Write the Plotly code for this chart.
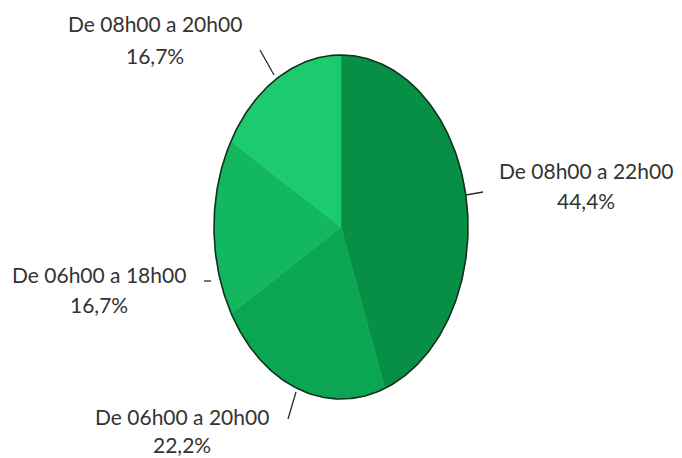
import numpy as np
import plotly.graph_objects as go

categories = ["De 08h00 a 22h00", "De 06h00 a 20h00", "De 06h00 a 18h00", "De 08h00 a 20h00"]
values = [44.4, 22.2, 16.7, 16.7]
colors = ["#078f45", "#0aa653", "#12b75f", "#1ccb6e"]

# ellipse geometry (pixel-like data units)
cx, cy, ra, rb = 341, 227, 127, 172

fig = go.Figure()
total = sum(values)
start = 0.0
for cat, v, col in zip(categories, values, colors):
    end = start + v / total * 2 * np.pi
    t = np.linspace(start, end, 120)
    xs = np.concatenate([[cx], cx + ra * np.sin(t), [cx]])
    ys = np.concatenate([[cy], cy - rb * np.cos(t), [cy]])
    fig.add_trace(go.Scatter(x=xs, y=ys, fill="toself", fillcolor=col, mode="lines",
                             line=dict(width=0.5, color=col), name=cat, hoverinfo="name"))
    start = end

t = np.linspace(0, 2 * np.pi, 400)
fig.add_trace(go.Scatter(x=cx + ra * np.sin(t), y=cy - rb * np.cos(t), mode="lines",
                         line=dict(color="#14301c", width=1.6), hoverinfo="skip"))

# label positions: (center x, y line1, y line2)
label_pos = [(586, 170, 200), (182, 416, 444), (99, 274, 304), (155, 23, 55)]
leaders = [((466, 195), (483, 192)), ((288, 419), (296, 392)),
           ((204, 281), (211, 281)), ((260, 50), (274, 75))]

font = dict(family="Lato, Open Sans, sans-serif", size=21, color="#333333")
for cat, v, (lx, ly1, ly2), ((x0, y0), (x1, y1)) in zip(categories, values, label_pos, leaders):
    pct = f"{v:.1f}".replace(".", ",") + "%"
    fig.add_annotation(x=lx, y=ly1, text=cat, showarrow=False, font=font,
                       xanchor="center", yanchor="middle")
    fig.add_annotation(x=lx, y=ly2, text=pct, showarrow=False, font=font,
                       xanchor="center", yanchor="middle")
    fig.add_shape(type="line", x0=x0, y0=y0, x1=x1, y1=y1,
                  line=dict(color="#2a2a2a", width=1.3))

fig.update_layout(
    width=682, height=458, margin=dict(l=0, r=0, t=0, b=0),
    paper_bgcolor="white", plot_bgcolor="white", showlegend=False,
    xaxis=dict(range=[0, 682], visible=False, fixedrange=True),
    yaxis=dict(range=[458, 0], visible=False, fixedrange=True),
)
fig.write_html("out.html")
